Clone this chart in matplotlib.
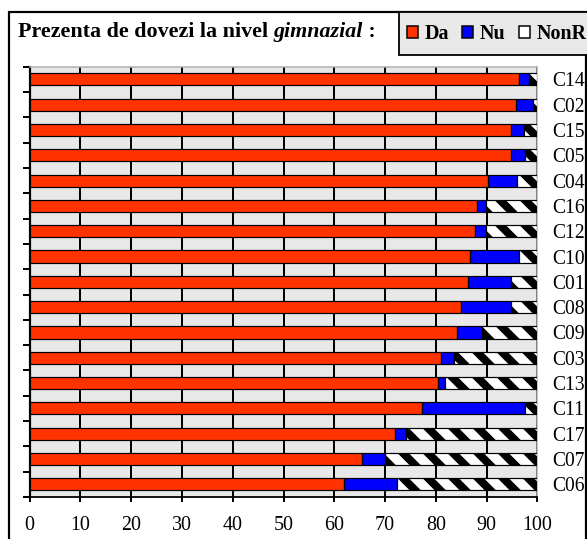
import matplotlib
matplotlib.use('Agg')
import matplotlib.pyplot as plt
import numpy as np
from matplotlib.patches import Patch, Rectangle

categories = ['C14', 'C02', 'C15', 'C05', 'C04', 'C16', 'C12', 'C10', 'C01',
              'C08', 'C09', 'C03', 'C13', 'C11', 'C17', 'C07', 'C06']
da = [96.3, 95.9, 94.8, 94.8, 90.3, 88.1, 87.7, 86.7, 86.4,
      85.0, 84.2, 81.1, 80.4, 77.2, 72.0, 65.5, 61.9]
nu = [2.1, 3.3, 2.5, 2.8, 5.7, 1.8, 2.2, 9.6, 8.5,
      9.9, 4.9, 2.4, 1.4, 20.3, 2.1, 4.4, 10.4]
nonr = [1.6, 0.8, 2.7, 2.4, 4.0, 10.1, 10.1, 3.7, 5.1,
        5.1, 10.9, 16.5, 18.2, 2.5, 25.9, 30.1, 27.7]
series_labels = ['Da', 'Nu', 'NonR']
xticks = [0, 10, 20, 30, 40, 50, 60, 70, 80, 90, 100]

DPI = 75
W, H = 587, 539


def pt(px):
    return px * 72.0 / DPI


plt.rcParams['font.family'] = ['Liberation Serif', 'DejaVu Serif']
plt.rcParams['hatch.linewidth'] = pt(8)

fig = plt.figure(figsize=(W / DPI, H / DPI), dpi=DPI)
fig.patch.set_facecolor('white')


def fx(px):
    return px / W


def fy(py):
    return 1 - py / H


ax = fig.add_axes([fx(29.7), fy(497), fx(537.3) - fx(29.7), fy(66.7) - fy(497)])
ax.set_facecolor('#e8e8e8')

n = len(categories)
y = np.arange(n)
da_a = np.array(da)
nu_a = np.array(nu)
nonr_a = np.array(nonr)
bw = 0.48
ax.barh(y, da_a, height=bw, color='#ff3300', edgecolor='black', linewidth=pt(1.2), zorder=3)
ax.barh(y, nu_a, left=da_a, height=bw, color='#0000ff', edgecolor='black',
        linewidth=pt(1.2), zorder=3)
hb = ax.barh(y, nonr_a, left=da_a + nu_a, height=bw, color='white', edgecolor='black',
             hatch='\\', linewidth=pt(1.2), zorder=3)
for p in hb:
    try:
        p.set_hatch_linewidth(pt(8))
    except AttributeError:
        pass

ax.set_xlim(0, 100)
ax.set_ylim(n - 0.5, -0.5)
ax.set_xticks(xticks)
ax.set_xticklabels([str(t) for t in xticks], fontsize=pt(20))
ax.xaxis.grid(True, color='black', linewidth=pt(2.0), zorder=1)
ax.set_axisbelow(True)

ax.set_yticks(y)
ax.set_yticklabels(categories, fontsize=pt(19.5))
ax.set_yticks(np.arange(n + 1) - 0.5, minor=True)
ax.tick_params(axis='y', which='major', left=False, right=False, length=0,
               labelleft=False, labelright=True, pad=pt(15))
ax.tick_params(axis='y', which='minor', left=True, right=False, direction='out',
               length=pt(7), width=pt(2), color='black')
ax.tick_params(axis='x', which='major', direction='out', length=pt(5), width=pt(2),
               color='black', pad=pt(14))

for s in ['top', 'right']:
    ax.spines[s].set_color('#b0b0b0')
    ax.spines[s].set_linewidth(pt(1.5))
ax.spines['left'].set_color('black')
ax.spines['left'].set_linewidth(pt(2.2))
ax.spines['bottom'].set_color('black')
ax.spines['bottom'].set_linewidth(pt(1.8))

# outer frame
fig.patches.append(Rectangle((fx(9), fy(560)), fx(586) - fx(9), fy(12) - fy(560),
                             transform=fig.transFigure, fill=False,
                             edgecolor='black', linewidth=pt(2.2), clip_on=False))
# legend box
fig.patches.append(Rectangle((fx(399.3), fy(55)), fx(700) - fx(399.3), fy(12.3) - fy(55),
                             transform=fig.transFigure, facecolor='#e8e8e8',
                             edgecolor='black', linewidth=pt(1.8), clip_on=False))

handles = [Patch(facecolor='#ff3300', edgecolor='black', linewidth=pt(1.5)),
           Patch(facecolor='#0000ff', edgecolor='black', linewidth=pt(1.5)),
           Patch(facecolor='white', edgecolor='black', linewidth=pt(1.5))]
leg = fig.legend(handles, series_labels, loc='center left',
                 bbox_to_anchor=(fx(406.5), fy(34)), ncol=3, frameon=False,
                 prop={'weight': 'bold', 'size': pt(20)}, handlelength=0.55,
                 handleheight=0.55, handletextpad=0.35, columnspacing=0.65,
                 borderpad=0, borderaxespad=0)

# title in three pieces
TS = pt(22)
base_y = fy(37)
t1 = fig.text(fx(18), base_y, 'Prezenta de dovezi la nivel ', fontsize=TS,
              fontweight='bold', ha='left', va='baseline')
t2 = fig.text(0, base_y, 'gimnazial', fontsize=TS, fontweight='bold',
              fontstyle='italic', va='baseline')
t3 = fig.text(0, base_y, ' :', fontsize=TS, fontweight='bold', va='baseline')
fig.canvas.draw()
r = fig.canvas.get_renderer()
bb1 = t1.get_window_extent(r)
t2.set_x(bb1.x1 / W)
fig.canvas.draw()
bb2 = t2.get_window_extent(r)
t3.set_x(bb2.x1 / W)

fig.savefig('out.png', dpi=DPI)
